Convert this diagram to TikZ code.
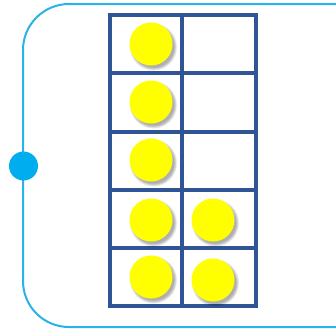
\documentclass[tikz,border=0pt]{standalone}
\begin{document}
\begin{tikzpicture}[x=1pt,y=-1pt]
\definecolor{framecyan}{HTML}{2BB3E8}
\definecolor{dotcyan}{HTML}{00AEEF}
\definecolor{gridblue}{HTML}{2F5597}
\definecolor{counter}{HTML}{FFFF00}
\tikzset{
  counterdot/.style={circle, fill=counter, draw=none, minimum size=43pt, inner sep=0pt},
  gridline/.style={draw=gridblue, line width=4.5pt},
}
\useasboundingbox (0,0) rectangle (336,330);
\fill[white] (0,0) rectangle (336,330);
\begin{scope}
\clip (0,0) rectangle (336,330);
\draw[framecyan, line width=2pt, rounded corners=46pt] (23,4) rectangle (390,327);
\end{scope}
\node[circle, fill=dotcyan, minimum size=29pt, inner sep=0pt] (port) at (23.5,166) {};
% grid
\draw[gridline] (110,15) rectangle (256,306);
\draw[gridline] (182,15) -- (182,306);
\foreach \y in {73,132,190,248} \draw[gridline] (110,\y) -- (256,\y);
% counters with soft shadows
\foreach \n/\x/\y in {a/151/44,b/151/102,c/151/160,d/151/220,e/213/220,f/151/277,g/213/280} {
  \foreach \k in {1,...,6} {
    \fill[black, opacity=0.06] (\x+2.5,\y+3) circle ({21.5+0.6*\k-1.5});
  }
  \node[counterdot] (\n) at (\x,\y) {};
}
\end{tikzpicture}
\end{document}
